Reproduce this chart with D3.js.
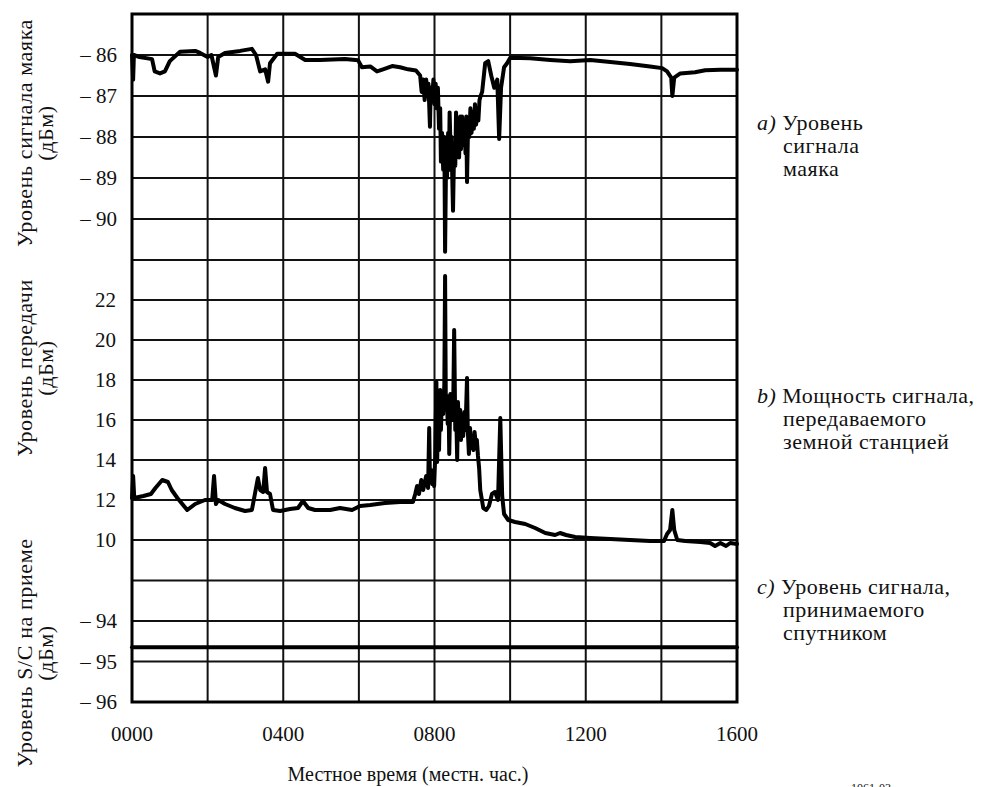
<!DOCTYPE html>
<html><head><meta charset="utf-8">
<script src="https://cdn.jsdelivr.net/npm/d3@7"></script>
<style>body{margin:0;background:#fff}svg{display:block}</style>
</head><body><svg id="c" width="989" height="787"></svg>
<script>
// ---- data ----
const xTicks = [0, 4, 8, 12, 16];
const xTickLabels = ["0000", "0400", "0800", "1200", "1600"];
const gridHours = [0, 2, 4, 6, 8, 10, 12, 14, 16];

const beaconTicks = [-86, -87, -88, -89, -90];
const txTicks = [22, 20, 18, 16, 14, 12, 10];
const rxTicks = [-94, -95, -96];

// a) beacon level (hours, dBm)
const beaconT = [0,0.03,0.05,0.2,0.53,0.6,0.74,0.87,1.0,1.27,1.67,1.8,2.0,2.1,2.22,2.28,2.46,2.86,3.17,3.28,3.39,3.52,3.6,3.65,3.84,4.31,4.58,4.97,5.63,5.98,6.08,6.3,6.48,6.64,6.88,7.09,7.3,7.51,
  7.62,7.66,7.7,7.74,7.78,7.81,7.84,7.88,7.9,7.94,7.97,8.0,8.03,8.06,8.09,8.12,8.15,8.17,8.2,8.23,8.26,8.28,8.31,8.33,8.36,8.38,8.4,8.43,8.45,8.47,8.49,8.52,8.55,8.57,8.6,8.63,8.65,8.68,8.7,8.73,8.76,8.79,8.82,8.84,8.86,8.89,8.92,8.95,8.98,9.01,9.04,9.07,9.1,9.13,9.16,9.19,9.22,9.26,
  9.34,9.42,9.5,9.58,9.66,9.71,9.76,9.84,9.92,10.0,10.53,11.06,11.59,12.12,12.65,13.17,13.7,14.02,14.15,14.26,14.29,14.34,14.5,14.89,15.16,15.56,16];
const beaconV = [-86.0,-86.6,-86.0,-86.05,-86.1,-86.4,-86.45,-86.4,-86.15,-85.92,-85.9,-85.95,-86.05,-86.0,-86.5,-86.05,-85.95,-85.9,-85.85,-86.0,-86.4,-86.35,-86.65,-86.2,-85.97,-85.97,-86.12,-86.12,-86.1,-86.13,-86.3,-86.28,-86.4,-86.35,-86.27,-86.3,-86.35,-86.38,
  -86.5,-86.9,-86.6,-87.1,-86.6,-87.0,-86.7,-87.75,-86.8,-87.1,-86.6,-87.2,-86.7,-87.3,-86.8,-87.8,-87.3,-88.6,-87.9,-88.8,-88.0,-90.8,-88.2,-89.0,-87.9,-88.8,-87.4,-88.5,-88.0,-89.0,-89.8,-88.2,-88.7,-87.4,-88.4,-87.6,-88.5,-87.5,-88.3,-87.5,-88.2,-87.6,-88.4,-87.5,-89.1,-87.6,-88.0,-87.3,-87.9,-87.4,-87.8,-87.2,-87.7,-87.3,-87.6,-87.1,-87.0,-86.9,
  -86.2,-86.15,-86.5,-86.8,-86.6,-88.05,-86.8,-86.3,-86.2,-86.07,-86.08,-86.12,-86.15,-86.12,-86.17,-86.22,-86.28,-86.32,-86.4,-86.55,-87.0,-86.55,-86.45,-86.42,-86.37,-86.36,-86.36];

// b) transmit level (hours, dBm)
const txT = [0,0.03,0.06,0.3,0.5,0.62,0.8,0.95,1.05,1.2,1.46,1.67,1.93,2.12,2.17,2.22,2.28,2.46,2.72,2.99,3.17,3.25,3.33,3.39,3.47,3.52,3.57,3.65,3.73,3.92,4.18,4.39,4.52,4.66,4.84,5.24,5.5,5.82,6.03,6.3,6.69,7.09,7.43,7.49,7.54,7.59,7.65,7.7,7.78,
  7.83,7.86,7.88,7.91,7.94,7.97,7.99,8.02,8.05,8.07,8.1,8.12,8.15,8.17,8.2,8.23,8.26,8.28,8.3,8.33,8.35,8.37,8.39,8.42,8.44,8.47,8.49,8.52,8.55,8.57,8.6,8.62,8.65,8.68,8.7,8.73,8.76,8.79,8.82,8.86,8.88,8.91,8.94,8.97,9.0,9.03,9.06,9.09,9.12,9.15,9.18,9.21,
  9.29,9.37,9.44,9.52,9.6,9.68,9.74,9.79,9.84,9.95,10.13,10.4,10.66,10.93,11.19,11.32,11.48,11.72,12.12,12.65,13.17,13.7,14.07,14.15,14.23,14.29,14.34,14.42,14.63,15.03,15.29,15.42,15.56,15.71,15.82,16];
const txV = [12.1,13.2,12.1,12.2,12.3,12.6,13.0,12.9,12.5,12.1,11.5,11.8,12.0,12.0,13.2,11.8,12.0,11.8,11.6,11.45,11.5,12.3,13.1,12.5,12.4,13.6,12.4,12.3,11.5,11.45,11.55,11.6,11.95,11.6,11.5,11.5,11.6,11.5,11.7,11.75,11.85,11.9,11.9,12.3,12.7,12.3,13.0,12.5,13.2,
  12.6,15.6,12.9,13.5,12.8,13.3,12.7,14.2,17.9,13.9,17.0,14.5,17.5,15.5,17.3,16.3,17.8,23.2,16.5,17.0,15.8,17.2,14.3,17.3,16.0,17.0,16.0,20.5,15.5,16.8,14.0,16.9,15.5,16.5,15.0,16.2,15.2,16.4,15.5,18.1,15.5,14.3,15.6,14.6,15.2,14.5,15.4,14.8,15.0,14.2,13.6,12.5,
  11.6,11.5,11.7,12.3,12.4,12.0,16.1,12.2,11.3,11.0,10.9,10.8,10.6,10.35,10.25,10.35,10.25,10.15,10.1,10.05,10.0,9.95,9.95,10.3,10.5,11.5,10.5,10.0,9.95,9.9,9.85,9.7,9.85,9.7,9.85,9.8];

// c) level received at satellite (hours, dBm)
const rxT = [0, 4, 8, 12, 16];
const rxV = [-94.65, -94.65, -94.65, -94.65, -94.65];

// ---- scales ----
const FONT = "Liberation Serif";
const svg = d3.select("#c");
const x = d3.scaleLinear().domain([0, 16]).range([132, 737]);
const ya = d3.scaleLinear().domain([-91, -85]).range([260, 14]);
const yb = d3.scaleLinear().domain([10, 24]).range([540, 260]);
const yc = d3.scaleLinear().domain([-96, -92]).range([702, 540]);

const grid = svg.append("g").attr("stroke", "#111").attr("stroke-width", 2).attr("fill", "none");
const hLines = d3.range(-90, -84, 1).map(v => ya(v))
  .concat(d3.range(10, 25, 2).map(v => yb(v)))
  .concat(d3.range(-95, -92, 1).map(v => yc(v)));
hLines.forEach(yy => grid.append("line").attr("x1", x(0)).attr("x2", x(16)).attr("y1", yy).attr("y2", yy));
gridHours.forEach(h => grid.append("line").attr("x1", x(h)).attr("x2", x(h)).attr("y1", ya(-85)).attr("y2", yc(-96)));
svg.append("rect").attr("x", x(0)).attr("y", ya(-85)).attr("width", x(16) - x(0)).attr("height", yc(-96) - ya(-85))
  .attr("fill", "none").attr("stroke", "#000").attr("stroke-width", 3);

// data lines
const mk = (ts, vs, ys) => d3.line().x((d, i) => x(ts[i])).y((d, i) => ys(vs[i]))(vs);
const lines = svg.append("g").attr("fill", "none").attr("stroke", "#000").attr("stroke-width", 4)
  .attr("stroke-linejoin", "round").attr("stroke-linecap", "round");
lines.append("path").attr("d", mk(beaconT, beaconV, ya));
lines.append("path").attr("d", mk(txT, txV, yb));
lines.append("path").attr("d", mk(rxT, rxV, yc));

// text helper
const T = (sel) => sel.append("text").attr("font-family", FONT).attr("fill", "#111");

// y tick labels
const fs = 21;
const minus = v => "\u2013 " + Math.abs(v);
beaconTicks.forEach(v => T(svg).attr("x", 117).attr("y", ya(v)).attr("dy", "0.35em").attr("text-anchor", "end").attr("font-size", fs).text(minus(v)));
txTicks.forEach(v => T(svg).attr("x", 116).attr("y", yb(v)).attr("dy", "0.35em").attr("text-anchor", "end").attr("font-size", fs).text(v));
rxTicks.forEach(v => T(svg).attr("x", 117).attr("y", yc(v)).attr("dy", "0.35em").attr("text-anchor", "end").attr("font-size", fs).text(minus(v)));

// x tick labels
xTicks.forEach((t, i) => T(svg).attr("x", x(t)).attr("y", 741).attr("text-anchor", "middle").attr("font-size", fs).text(xTickLabels[i]));
T(svg).attr("x", 408).attr("y", 781).attr("text-anchor", "middle").attr("font-size", 20).text("Местное время (местн. час.)");

// y titles (rotated)
function yTitle(cy, l1, l2) {
  T(svg).attr("transform", `translate(32,${cy}) rotate(-90)`).attr("text-anchor", "middle").attr("font-size", 22).attr("letter-spacing", 0.6).text(l1);
  T(svg).attr("transform", `translate(53,${cy}) rotate(-90)`).attr("text-anchor", "middle").attr("font-size", 22).attr("letter-spacing", 0.6).text(l2);
}
yTitle(133, "Уровень сигнала маяка", "(дБм)");
yTitle(368, "Уровень передачи", "(дБм)");
yTitle(653, "Уровень S/C на приеме", "(дБм)");

// right labels (one text element per note)
function note(letter, lines3, y0) {
  const t = T(svg).attr("x", 757).attr("y", y0).attr("font-size", 22).attr("letter-spacing", 0.5);
  t.append("tspan").attr("font-style", "italic").text(letter);
  t.append("tspan").text(" " + lines3[0]);
  lines3.slice(1).forEach(s => t.append("tspan").attr("x", 783).attr("dy", 23).text(s));
}
note("a)", ["Уровень", "сигнала", "маяка"], 130);
note("b)", ["Мощность сигнала,", "передаваемого", "земной станцией"], 403);
note("c)", ["Уровень сигнала,", "принимаемого", "спутником"], 594);

T(svg).attr("x", 851).attr("y", 792).attr("font-size", 12).text("1061-03");
</script></body></html>
